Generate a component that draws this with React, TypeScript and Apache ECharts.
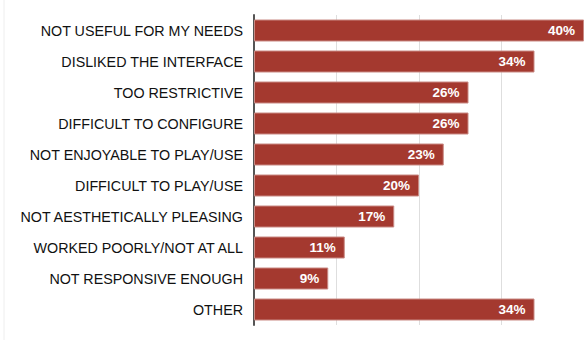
import React, { useEffect, useRef } from "react";
import * as echarts from "echarts";

const categories = [
  "NOT USEFUL FOR MY NEEDS",
  "DISLIKED THE INTERFACE",
  "TOO RESTRICTIVE",
  "DIFFICULT TO CONFIGURE",
  "NOT ENJOYABLE TO PLAY/USE",
  "DIFFICULT TO PLAY/USE",
  "NOT AESTHETICALLY PLEASING",
  "WORKED POORLY/NOT AT ALL",
  "NOT RESPONSIVE ENOUGH",
  "OTHER",
];
const values = [40, 34, 26, 26, 23, 20, 17, 11, 9, 34];

export default function App() {
  const ref = useRef<HTMLDivElement>(null);
  useEffect(() => {
    const chart = echarts.init(ref.current!, null, { renderer: "svg" });
    chart.setOption({
      animation: false,
      grid: { left: 254, right: -3, top: 15, bottom: 15 },
      xAxis: {
        type: "value",
        min: 0,
        max: 40,
        interval: 10,
        axisLabel: { show: false },
        axisLine: { show: false },
        axisTick: { show: false },
        splitLine: { show: true, lineStyle: { color: "#dedede", width: 1 } },
      },
      yAxis: {
        type: "category",
        inverse: true,
        data: categories,
        axisLine: { show: true, lineStyle: { color: "#555", width: 2 } },
        axisTick: { show: false },
        axisLabel: {
          margin: 11,
          color: "#111",
          fontSize: 14.3,
          fontFamily: "Liberation Sans, Arial, sans-serif",
        },
      },
      graphic: [
        {
          type: "line",
          shape: { x1: 4, y1: 0, x2: 4, y2: 340 },
          style: { stroke: "#eeeeee", lineWidth: 1 },
        },
      ],
      series: [
        {
          type: "bar",
          data: values,
          barWidth: 22,
          itemStyle: { color: "#a4392f", borderColor: "#c98a84", borderWidth: 1 },
          label: {
            show: true,
            position: "insideRight",
            distance: 9,
            formatter: "{c}%",
            color: "#fff",
            fontWeight: "bold",
            fontSize: 13.5,
            fontFamily: "Liberation Sans, Arial, sans-serif",
          },
        },
      ],
    });
    return () => chart.dispose();
  }, []);
  return <div ref={ref} style={{ width: 584, height: 340, position: "absolute", left: 0, top: 0 }} />;
}
